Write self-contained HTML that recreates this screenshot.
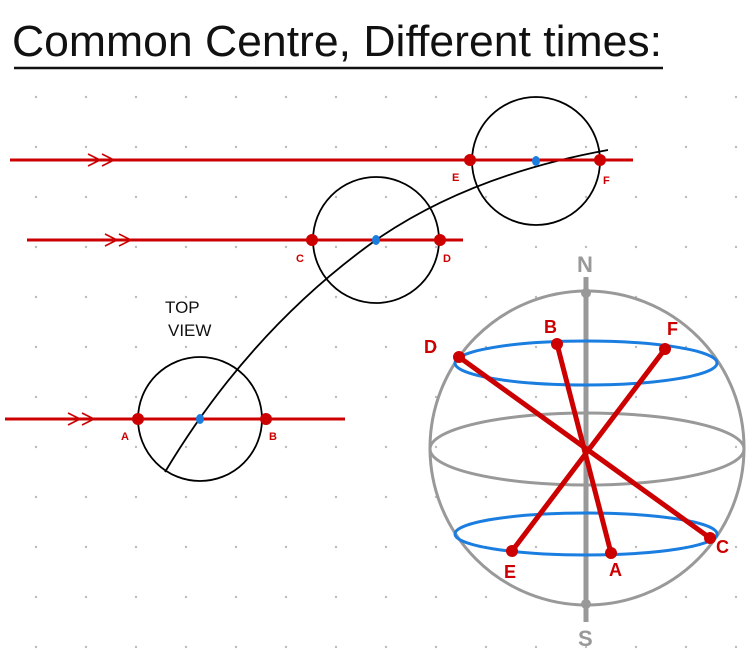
<!DOCTYPE html>
<html><head><style>body{margin:0;background:#fff}svg{display:block}</style></head><body>
<svg width="754" height="650" viewBox="0 0 754 650" xmlns="http://www.w3.org/2000/svg">
<defs><pattern id="g" x="11" y="22" width="50" height="50" patternUnits="userSpaceOnUse"><circle cx="25" cy="25" r="1.2" fill="#bbb"/></pattern></defs>
<rect width="754" height="650" fill="url(#g)"/>
<rect x="0" y="0" width="754" height="75" fill="#fff"/>
<text x="12" y="56" font-family="Liberation Sans Narrow, Liberation Sans, sans-serif" font-size="44" fill="#111" textLength="650" lengthAdjust="spacingAndGlyphs">Common Centre, Different times:</text>
<line x1="14" y1="68" x2="663" y2="68" stroke="#111" stroke-width="2.5"/>
<g fill="none" stroke="#000" stroke-width="1.8">
<circle cx="200" cy="419" r="62"/><circle cx="376" cy="240" r="63"/><circle cx="536" cy="161" r="64"/>
<path d="M165 472 Q 250 330 376 240 Q 470 175 608 150"/>
</g>
<g stroke="#c00" stroke-width="3" fill="none">
<line x1="5" y1="419" x2="345" y2="419"/><line x1="27" y1="240" x2="463" y2="240"/><line x1="10" y1="160" x2="633" y2="160"/>
<path d="M68 413 L80 419 L68 425 M82 413 L94 419 L82 425" stroke-width="1.6"/>
<path d="M105 234 L117 240 L105 246 M119 234 L131 240 L119 246" stroke-width="1.6"/>
<path d="M88 154 L100 160 L88 166 M102 154 L114 160 L102 166" stroke-width="1.6"/>
</g>
<g fill="#c00"><circle cx="138" cy="419" r="6"/><circle cx="266" cy="419" r="6"/><circle cx="312" cy="240" r="6"/><circle cx="440" cy="240" r="6"/><circle cx="470" cy="160" r="6"/><circle cx="600" cy="160" r="6"/></g>
<g fill="#1a7de0"><ellipse cx="200" cy="419" rx="4" ry="5"/><ellipse cx="376" cy="240" rx="4" ry="5"/><ellipse cx="536" cy="161" rx="4" ry="5"/></g>
<g font-family="Liberation Sans, sans-serif" font-size="11" fill="#c00" font-weight="bold">
<text x="121" y="440">A</text><text x="269" y="440">B</text><text x="296" y="262">C</text><text x="443" y="262">D</text><text x="452" y="181">E</text><text x="603" y="184">F</text>
</g>
<text x="165" y="313" font-family="Liberation Sans, sans-serif" font-size="17" fill="#111">TOP</text>
<text x="168" y="336" font-family="Liberation Sans, sans-serif" font-size="17" fill="#111">VIEW</text>
<g fill="none" stroke="#999" stroke-width="3">
<circle cx="587" cy="448" r="157"/><ellipse cx="587" cy="449" rx="157" ry="36"/>
</g>
<line x1="586" y1="277" x2="586" y2="622" stroke="#999" stroke-width="5"/>
<circle cx="586" cy="293" r="5" fill="#999"/><circle cx="586" cy="604" r="5" fill="#999"/>
<g font-family="Liberation Sans, sans-serif" font-size="22" fill="#999" font-weight="bold"><text x="577" y="272">N</text><text x="578" y="646">S</text></g>
<g fill="none" stroke="#1a7de0" stroke-width="3"><ellipse cx="586" cy="363" rx="131" ry="22"/><ellipse cx="586" cy="534" rx="131" ry="21"/></g>
<g stroke="#c00" stroke-width="5"><line x1="459" y1="357" x2="710" y2="538"/><line x1="557" y1="344" x2="611" y2="553"/><line x1="665" y1="349" x2="512" y2="551"/></g>
<g fill="#c00"><circle cx="459" cy="357" r="6"/><circle cx="557" cy="344" r="6"/><circle cx="665" cy="349" r="6"/><circle cx="512" cy="551" r="6"/><circle cx="611" cy="553" r="6"/><circle cx="710" cy="538" r="6"/></g>
<g font-family="Liberation Sans, sans-serif" font-size="18" fill="#c00" font-weight="bold">
<text x="424" y="353">D</text><text x="544" y="333">B</text><text x="667" y="335">F</text><text x="504" y="578">E</text><text x="609" y="576">A</text><text x="716" y="553">C</text>
</g>
</svg>
</body></html>
